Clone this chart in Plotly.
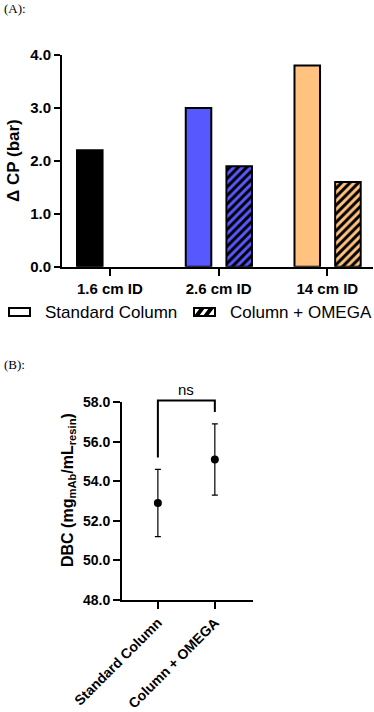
import plotly.graph_objects as go

# ---------------- data ----------------
columns = ["1.6 cm ID", "2.6 cm ID", "14 cm ID"]
dcp_standard = [2.2, 3.0, 3.8]
dcp_omega = [None, 1.9, 1.6]
bar_colors = ["#000000", "#5858FF", "#FFC27F"]

groups_b = ["Standard Column", "Column + OMEGA"]
dbc_mean = [52.9, 55.1]
dbc_err_plus = [1.7, 1.8]
dbc_err_minus = [1.7, 1.8]

W, H = 374, 712
def px(x):
    return x / W
def py(y):
    return 1 - y / H

FONT = "Liberation Sans, Arial, sans-serif"
SERIF = "Liberation Serif, Times New Roman, serif"

# panel B geometry
XB_DOM = [px(122), px(253)]
XB_RANGE = [-0.63, 1.67]
YB_DOM = [py(600), py(402)]
YB_RANGE = [48, 58]

def b_to_paper(xv, yv):
    xp = XB_DOM[0] + (xv - XB_RANGE[0]) / (XB_RANGE[1] - XB_RANGE[0]) * (XB_DOM[1] - XB_DOM[0])
    yp = YB_DOM[0] + (yv - YB_RANGE[0]) / (YB_RANGE[1] - YB_RANGE[0]) * (YB_DOM[1] - YB_DOM[0])
    return xp, yp

n = len(columns)
fig = go.Figure()

# Panel A bars: standard column
fig.add_trace(go.Bar(
    x=list(range(n)), y=dcp_standard, width=0.235, offset=-0.302,
    marker=dict(color=bar_colors, line=dict(color="black", width=2)),
    showlegend=False, xaxis="x", yaxis="y"))
# Panel A bars: column + OMEGA (hatched), one trace per bar so the hatch stays black
for i in range(n):
    if dcp_omega[i] is None:
        continue
    fig.add_trace(go.Bar(
        x=[i], y=[dcp_omega[i]], width=0.235, offset=0.072,
        marker=dict(color=bar_colors[i], line=dict(color="black", width=2),
                    pattern=dict(shape="/", fgcolor="#000000", fgopacity=1,
                                 size=6, solidity=0.5, bgcolor=bar_colors[i],
                                 fillmode="replace")),
        showlegend=False, xaxis="x", yaxis="y"))

# Panel B points
fig.add_trace(go.Scatter(
    x=list(range(len(groups_b))), y=dbc_mean, mode="markers",
    marker=dict(color="black", size=8),
    error_y=dict(type="data", array=dbc_err_plus, arrayminus=dbc_err_minus,
                 color="black", thickness=1.2, width=3),
    showlegend=False, xaxis="x2", yaxis="y2"))

axis_common = dict(showline=True, linecolor="black", linewidth=2, ticks="outside",
                   tickcolor="black", tickwidth=2, showgrid=False, zeroline=False,
                   automargin=False)

fig.update_layout(
    width=W, height=H, margin=dict(l=0, r=0, t=0, b=0),
    plot_bgcolor="white", paper_bgcolor="white", barmode="overlay",
    font=dict(family=FONT, color="black"),
    xaxis=dict(domain=[px(62), px(373)], range=[-0.44, 2.42],
               tickvals=list(range(n)), ticktext=columns,
               ticklen=7, anchor="y",
               tickfont=dict(family=FONT, size=15, weight="bold"), **axis_common),
    yaxis=dict(domain=[py(266.7), py(55)], range=[0, 4], dtick=1, tickformat=".1f",
               ticklen=6, anchor="x",
               tickfont=dict(family=FONT, size=15, weight="bold"), **axis_common),
    xaxis2=dict(domain=XB_DOM, range=XB_RANGE,
                tickvals=list(range(len(groups_b))), ticktext=groups_b,
                tickangle=-45, ticklen=7, anchor="y2",
                tickfont=dict(family=FONT, size=14, weight="bold"), **axis_common),
    yaxis2=dict(domain=YB_DOM, range=YB_RANGE, dtick=2, tickformat=".1f",
                ticklen=7, anchor="x2",
                tickfont=dict(family=FONT, size=14, weight="bold"), **axis_common),
)

ns_x, ns_y = b_to_paper(0.5, 58.65)
annotations = [
    dict(text="(A):", x=px(2), y=py(9), xref="paper", yref="paper", xanchor="left",
         yanchor="middle", showarrow=False, font=dict(family=SERIF, size=13)),
    dict(text="(B):", x=px(2), y=py(365), xref="paper", yref="paper", xanchor="left",
         yanchor="middle", showarrow=False, font=dict(family=SERIF, size=13)),
    dict(text="Δ CP (bar)", x=px(13), y=py(161), xref="paper", yref="paper",
         textangle=-90, showarrow=False, xanchor="center", yanchor="middle",
         font=dict(family=FONT, size=17, weight="bold")),
    dict(text="DBC (mg<sub>mAb</sub>/mL<sub>resin</sub>)", x=px(68), y=py(490),
         xref="paper", yref="paper", textangle=-90, showarrow=False,
         xanchor="center", yanchor="middle",
         font=dict(family=FONT, size=16, weight="bold")),
    dict(text="ns", x=ns_x, y=ns_y, xref="paper", yref="paper", showarrow=False,
         xanchor="center", yanchor="middle", font=dict(family=FONT, size=15)),
    dict(text="Standard Column", x=px(43), y=py(312), xref="paper", yref="paper",
         xanchor="left", yanchor="middle", showarrow=False,
         font=dict(family=FONT, size=17)),
    dict(text="Column + OMEGA", x=px(228), y=py(312), xref="paper", yref="paper",
         xanchor="left", yanchor="middle", showarrow=False,
         font=dict(family=FONT, size=17)),
]
fig.update_layout(annotations=annotations)

bl = b_to_paper(0, 55.2)
bt0 = b_to_paper(0, 58.07)
bt1 = b_to_paper(1, 58.07)
br = b_to_paper(1, 57.5)
shapes = [
    # significance bracket
    dict(type="path", xref="paper", yref="paper",
         path=f"M {bl[0]},{bl[1]} L {bt0[0]},{bt0[1]} L {bt1[0]},{bt1[1]} L {br[0]},{br[1]}",
         line=dict(color="black", width=2)),
    # legend: standard column icon
    dict(type="rect", xref="paper", yref="paper",
         x0=px(9), x1=px(30), y0=py(316), y1=py(308),
         fillcolor="white", line=dict(color="black", width=2)),
    # legend: omega icon
    dict(type="rect", xref="paper", yref="paper",
         x0=px(194), x1=px(215), y0=py(316), y1=py(308),
         fillcolor="white", line=dict(color="black", width=2)),
]
# hatch stripes inside OMEGA legend icon
for x_start in (194, 203):
    shapes.append(dict(
        type="path", xref="paper", yref="paper",
        path=(f"M {px(x_start)},{py(316)} L {px(x_start + 5)},{py(316)} "
              f"L {px(x_start + 11)},{py(308)} L {px(x_start + 6)},{py(308)} Z"),
        fillcolor="black", line=dict(width=0)))
fig.update_layout(shapes=shapes)

fig.write_html("out.html", config={"displayModeBar": False},
               post_script="document.body.style.margin='0px';document.body.style.overflow='hidden';")
